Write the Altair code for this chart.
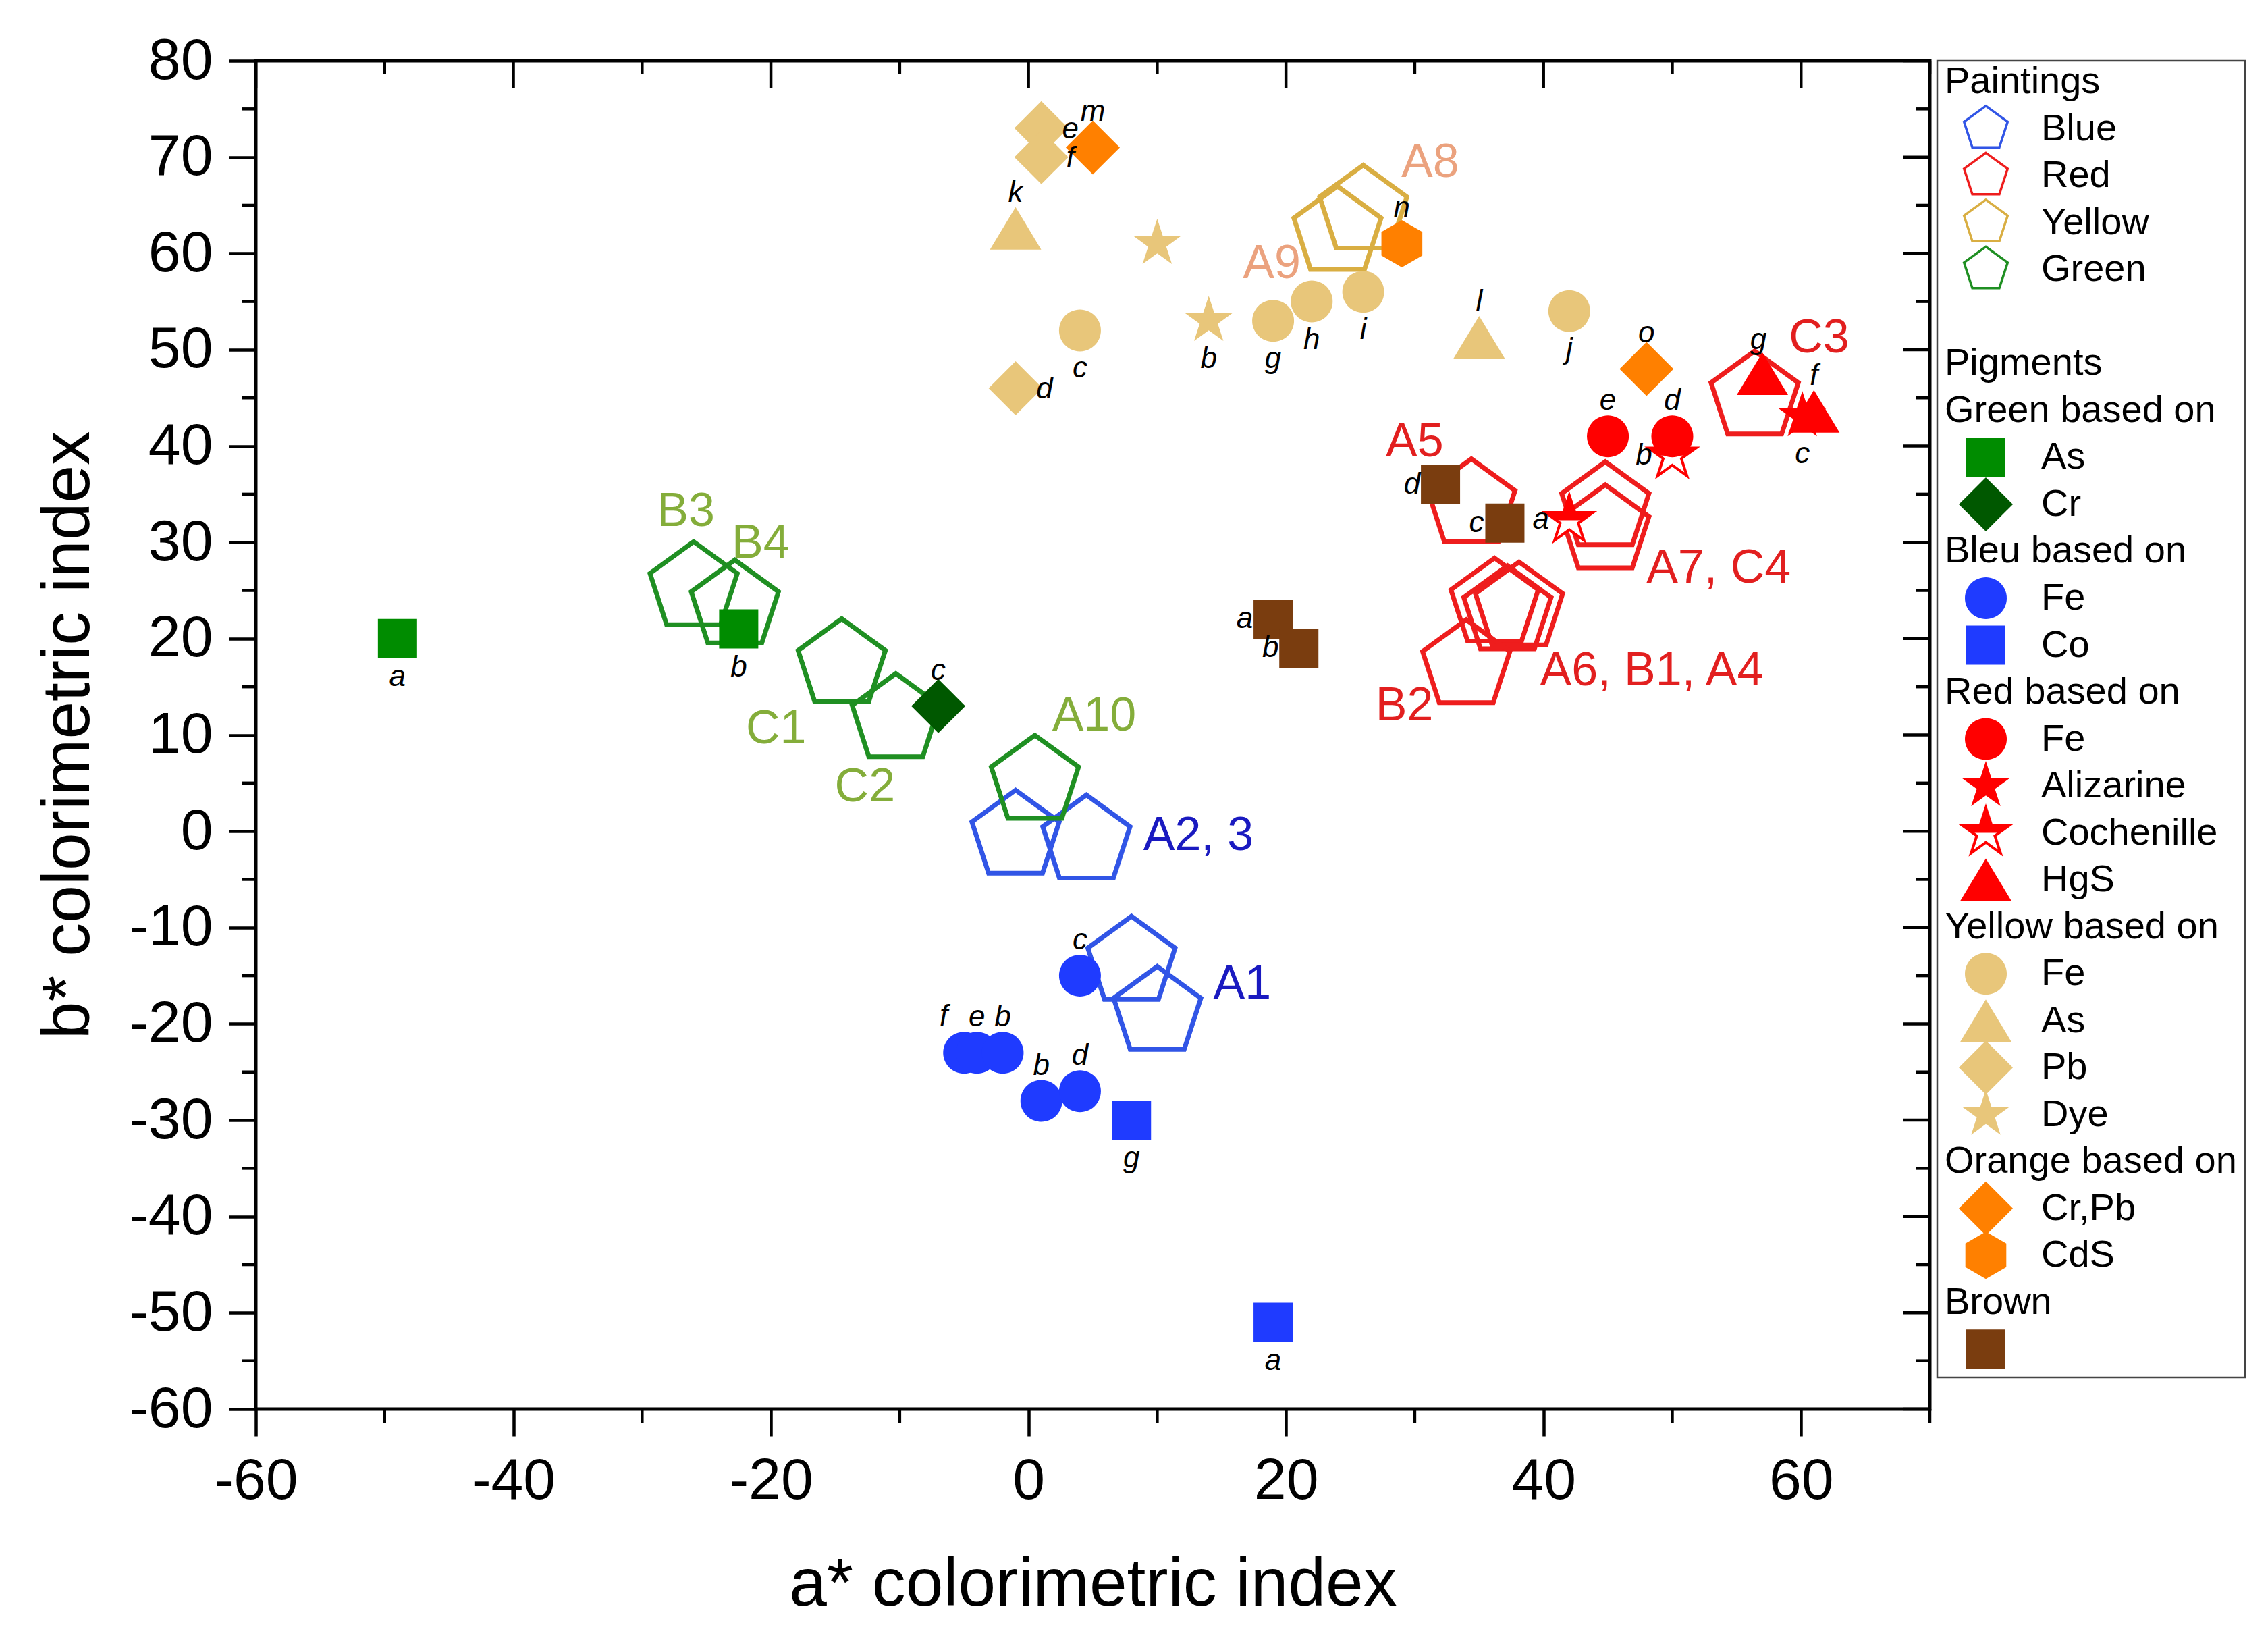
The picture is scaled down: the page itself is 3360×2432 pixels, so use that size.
import math
import altair as alt
import pandas as pd

# ------------------------------------------------------------------ data
# Paintings (open pentagons)
painting_id = ["A1", "A1", "A2", "A3", "A10", "B3", "B4", "C1", "C2",
               "A5", "A7", "C4", "A6", "B1", "A4", "B2", "C3", "A8", "A9"]
painting_group = ["Blue", "Blue", "Blue", "Blue", "Green", "Green", "Green", "Green", "Green",
                  "Red", "Red", "Red", "Red", "Red", "Red", "Red", "Red", "Yellow", "Yellow"]
painting_a = [8.0, 10.0, -1.0, 4.5, 0.5, -26.0, -22.8, -14.5, -10.3,
              34.4, 44.8, 44.8, 36.2, 37.2, 38.1, 34.0, 56.4, 26.0, 24.0]
painting_b = [-13.6, -18.8, -0.5, -1.0, 5.2, 25.3, 23.4, 17.3, 11.6,
              33.9, 33.6, 31.2, 23.6, 22.8, 23.2, 17.2, 45.1, 64.4, 62.2]

# Painting annotations
painting_label = ["A1", "A2, 3", "A10", "B3", "B4", "C1", "C2", "A5", "A7, C4",
                  "A6, B1, A4", "B2", "C3", "A8", "A9"]
painting_label_group = ["Blue", "Blue", "Green", "Green", "Green", "Green", "Green", "Red", "Red",
                        "Red", "Red", "Red", "Yellow", "Yellow"]
painting_label_a = [16.6, 13.2, 5.1, -26.6, -20.8, -19.6, -12.7, 30.0, 53.6, 48.4, 29.2, 61.4, 31.2, 18.9]
painting_label_b = [-15.9, -0.5, 11.9, 33.2, 29.9, 10.6, 4.6, 40.4, 27.3, 16.6, 13.0, 51.2, 69.4, 58.9]

# Pigments (filled symbols)
pigment_cat = ["Green As", "Green As", "Green Cr",
               "Blue Fe", "Blue Fe", "Blue Fe", "Blue Fe", "Blue Fe", "Blue Fe", "Blue Co", "Blue Co",
               "Red Cochenille", "Red Cochenille", "Red Fe", "Red Fe", "Red Alizarine", "Red HgS", "Red HgS",
               "Yellow Fe", "Yellow Fe", "Yellow Fe", "Yellow Fe", "Yellow Fe", "Yellow As", "Yellow As",
               "Yellow Pb", "Yellow Pb", "Yellow Pb", "Yellow Dye", "Yellow Dye",
               "Orange Cr,Pb", "Orange Cr,Pb", "Orange CdS",
               "Brown", "Brown", "Brown", "Brown"]
pigment_letter = ["a", "b", "c",
                  "c", "f", "e", "b", "b", "d", "g", "a",
                  "a", "b", "e", "d", "c", "g", "f",
                  "c", "g", "h", "i", "j", "k", "l",
                  "e", "f", "d", "", "b",
                  "m", "o", "n",
                  "a", "b", "c", "d"]
pigment_a = [-49.0, -22.5, -7.0,
             4.0, -5.0, -4.0, -2.0, 1.0, 4.0, 8.0, 19.0,
             42.0, 50.0, 45.0, 50.0, 60.1, 57.0, 61.0,
             4.0, 19.0, 22.0, 26.0, 42.0, -1.0, 35.0,
             1.0, 1.0, -1.0, 10.0, 14.0,
             5.0, 48.0, 29.0,
             19.0, 21.0, 37.0, 32.0]
pigment_b = [20.0, 21.0, 13.0,
             -15.0, -23.0, -23.0, -23.0, -28.0, -27.0, -30.0, -51.0,
             32.3, 39.0, 41.0, 41.0, 43.1, 47.5, 43.6,
             52.0, 53.0, 55.0, 56.0, 54.0, 62.6, 51.3,
             73.0, 70.0, 46.0, 61.0, 53.0,
             71.0, 48.0, 61.0,
             22.0, 19.0, 32.0, 36.0]
pigment_label_pos = ["S", "S", "N",
                     "N", "NW", "N", "N", "N", "N", "S", "S",
                     "W", "W", "N", "N", "S", "NW2", "N",
                     "S", "S", "S", "S", "S", "N", "N",
                     "E", "E", "E", "N", "S",
                     "N", "N", "N",
                     "W", "W", "W", "W"]

# Legend structure
painting_groups = ["Blue", "Red", "Yellow", "Green"]
pigment_keys = ["Green As", "Green Cr", "Blue Fe", "Blue Co", "Red Fe", "Red Alizarine",
                "Red Cochenille", "Red HgS", "Yellow Fe", "Yellow As", "Yellow Pb", "Yellow Dye",
                "Orange Cr,Pb", "Orange CdS", "Brown"]
pigment_key_header = ["Green based on", "Green based on", "Bleu based on", "Bleu based on",
                      "Red based on", "Red based on", "Red based on", "Red based on",
                      "Yellow based on", "Yellow based on", "Yellow based on", "Yellow based on",
                      "Orange based on", "Orange based on", "Brown"]
pigment_key_text = ["As", "Cr", "Fe", "Co", "Fe", "Alizarine", "Cochenille", "HgS",
                    "Fe", "As", "Pb", "Dye", "Cr,Pb", "CdS", ""]

# Axis ticks
x_major_ticks = [-60, -40, -20, 0, 20, 40, 60]
x_minor_ticks = [-50, -30, -10, 10, 30, 50, 70]
y_major_ticks = [-60, -50, -40, -30, -20, -10, 0, 10, 20, 30, 40, 50, 60, 70, 80]
y_minor_ticks = [-55, -45, -35, -25, -15, -5, 5, 15, 25, 35, 45, 55, 65, 75]

# ------------------------------------------------------------------ styles
FONT = "Liberation Sans"
W, H = 2480, 1997
LEG_W, LEG_H = 456, 1950
SYM_SIZE = 40000       # 1 path unit = 100 px
LEG_PENT_SIZE = 10000  # 1 path unit = 50 px


def poly(points):
    return "M" + "L".join(f"{x:.4f},{y:.4f}" for x, y in points) + "Z"


def regular(n, r, start=-90.0):
    return [(r * math.cos(math.radians(start + 360.0 * k / n)),
             r * math.sin(math.radians(start + 360.0 * k / n))) for k in range(n)]


def star_pts(R, r):
    pts = []
    for k in range(10):
        ang = math.radians(-90 + 36 * k)
        rad = R if k % 2 == 0 else r
        pts.append((rad * math.cos(ang), rad * math.sin(ang)))
    return pts


def clip_upper(pts):
    out = []
    n = len(pts)
    for i in range(n):
        p, q = pts[i], pts[(i + 1) % n]
        pin, qin = p[1] <= 0, q[1] <= 0
        if pin:
            out.append(p)
        if pin != qin:
            t = p[1] / (p[1] - q[1])
            out.append((p[0] + t * (q[0] - p[0]), 0.0))
    return out


SHAPES = {
    "square": poly([(-.29, -.29), (.29, -.29), (.29, .29), (-.29, .29)]),
    "circle": "M-0.31,0A0.31,0.31 0 1,0 0.31,0A0.31,0.31 0 1,0 -0.31,0Z",
    "diamond": poly([(0, -.40), (.40, 0), (0, .40), (-.40, 0)]),
    "triangle": poly([(0, -.315), (.38, .315), (-.38, .315)]),
    "star": poly(star_pts(.37, .37 * .382)),
    "halfstar": poly(clip_upper(star_pts(.37, .37 * .382))),
    "hexagon": poly(regular(6, .35)),
    "pentagon": poly(regular(5, .68)),
}

PAINT_COLOR = {"Blue": "#3155E6", "Red": "#EE1D1D", "Yellow": "#D9AE42", "Green": "#1F8F22"}
PAINT_LABEL_COLOR = {"Blue": "#1A1AC0", "Red": "#E21F1F", "Yellow": "#EBA27E", "Green": "#84AD3A"}
PIG_STYLE = {
    "Green As": ("square", "#008C00"),
    "Green Cr": ("diamond", "#005800"),
    "Blue Fe": ("circle", "#1F3BFF"),
    "Blue Co": ("square", "#1F3BFF"),
    "Red Fe": ("circle", "#FF0000"),
    "Red Alizarine": ("star", "#FF0000"),
    "Red Cochenille": ("star", "#FF0000"),
    "Red HgS": ("triangle", "#FF0000"),
    "Yellow Fe": ("circle", "#E8C67A"),
    "Yellow As": ("triangle", "#E8C67A"),
    "Yellow Pb": ("diamond", "#E8C67A"),
    "Yellow Dye": ("star", "#E8C67A"),
    "Orange Cr,Pb": ("diamond", "#FF8000"),
    "Orange CdS": ("hexagon", "#FF8000"),
    "Brown": ("square", "#7A3D0F"),
}
LABEL_OFFSETS = {"N": (0, -52), "S": (0, 57), "E": (43, 2), "W": (-42, 0),
                 "NW": (-30, -53), "NW2": (-6, -50)}

# ------------------------------------------------------------------ tables
paint_df = pd.DataFrame({"id": painting_id, "group": painting_group, "a": painting_a, "b": painting_b})
paint_df["color"] = paint_df["group"].map(PAINT_COLOR)

plabel_df = pd.DataFrame({"text": painting_label, "group": painting_label_group,
                          "a": painting_label_a, "b": painting_label_b})
plabel_df["color"] = plabel_df["group"].map(PAINT_LABEL_COLOR)

pig_df = pd.DataFrame({"cat": pigment_cat, "letter": pigment_letter, "a": pigment_a,
                       "b": pigment_b, "pos": pigment_label_pos})
pig_df["shape"] = pig_df["cat"].map(lambda c: SHAPES[PIG_STYLE[c][0]])
pig_df["color"] = pig_df["cat"].map(lambda c: PIG_STYLE[c][1])
half_df = pig_df[pig_df["cat"] == "Red Cochenille"]
solid_df = pig_df[pig_df["cat"] != "Red Cochenille"]

# ------------------------------------------------------------------ main plot
X_SCALE = alt.Scale(domain=[-60, 70], nice=False, zero=False)
Y_SCALE = alt.Scale(domain=[-60, 80], nice=False, zero=False)
axis_common = dict(labelFont=FONT, labelFontSize=86, labelColor="black", labelPadding=24,
                   labelFlush=False, labelOverlap=False, labelExpr="'' + datum.value",
                   tickSize=40, tickWidth=4.5, tickColor="black", domain=False, grid=False,
                   titleFont=FONT, titleFontSize=100, titleFontWeight="normal", titleColor="black")
X_AXIS = alt.Axis(values=x_major_ticks, title="a* colorimetric index", titlePadding=62, **axis_common)
Y_AXIS = alt.Axis(values=y_major_ticks, title="b* colorimetric index", titlePadding=38, **axis_common)


def XE():
    return alt.X("a:Q", scale=X_SCALE, axis=X_AXIS)


def YE():
    return alt.Y("b:Q", scale=Y_SCALE, axis=Y_AXIS)


tick = dict(color="black", strokeWidth=4.5)
xmaj = pd.DataFrame({"a": x_major_ticks})
xmin = pd.DataFrame({"a": x_minor_ticks})
ymaj = pd.DataFrame({"b": y_major_ticks})
ymin = pd.DataFrame({"b": y_minor_ticks})

layers = [
    alt.Chart(xmaj).mark_rule(**tick).encode(x=XE(), y=alt.value(0), y2=alt.value(40)),
    alt.Chart(xmin).mark_rule(**tick).encode(x=XE(), y=alt.value(0), y2=alt.value(20)),
    alt.Chart(xmin).mark_rule(**tick).encode(x=XE(), y=alt.value(H), y2=alt.value(H + 20)),
    alt.Chart(ymaj).mark_rule(**tick).encode(y=YE(), x=alt.value(W - 40), x2=alt.value(W)),
    alt.Chart(ymin).mark_rule(**tick).encode(y=YE(), x=alt.value(W - 20), x2=alt.value(W)),
    alt.Chart(ymin).mark_rule(**tick).encode(y=YE(), x=alt.value(-20), x2=alt.value(0)),
    # paintings
    alt.Chart(paint_df).mark_point(shape=SHAPES["pentagon"], size=SYM_SIZE, filled=False,
                                   strokeWidth=7, opacity=1).encode(
        x=XE(), y=YE(), color=alt.Color("color:N", scale=None)),
    # cochenille (half-filled stars)
    alt.Chart(half_df).mark_point(shape=SHAPES["star"], size=SYM_SIZE, filled=True, fill="white",
                                  stroke="#FF0000", strokeWidth=4, opacity=1).encode(x=XE(), y=YE()),
    alt.Chart(half_df).mark_point(shape=SHAPES["halfstar"], size=SYM_SIZE, filled=True,
                                  fill="#FF0000", strokeWidth=0, opacity=1).encode(x=XE(), y=YE()),
    # other pigments
    alt.Chart(solid_df).mark_point(size=SYM_SIZE, filled=True, strokeWidth=0, opacity=1).encode(
        x=XE(), y=YE(), shape=alt.Shape("shape:N", scale=None),
        color=alt.Color("color:N", scale=None)),
]
for code, (ddx, ddy) in LABEL_OFFSETS.items():
    layers.append(
        alt.Chart(pig_df).transform_filter(alt.datum.pos == code).mark_text(
            dx=ddx, dy=ddy, font=FONT, fontSize=44, fontStyle="italic", color="black",
            align="center", baseline="middle").encode(x=XE(), y=YE(), text="letter:N"))
layers.append(
    alt.Chart(plabel_df).mark_text(font=FONT, fontSize=70, align="center", baseline="middle").encode(
        x=XE(), y=YE(), text="text:N", color=alt.Color("color:N", scale=None)))

main = alt.layer(*layers).properties(
    width=W, height=H, view=alt.ViewBackground(stroke="black", strokeWidth=5))

# ------------------------------------------------------------------ legend panel
rows = []
r = 0
rows.append(dict(row=r, kind="header", text="Paintings"))
r += 1
for g in painting_groups:
    rows.append(dict(row=r, kind="paint", text=g, color=PAINT_COLOR[g], shape=""))
    r += 1
r += 1
rows.append(dict(row=r, kind="header", text="Pigments"))
r += 1
prev = None
for key, head, txt in zip(pigment_keys, pigment_key_header, pigment_key_text):
    if head != prev:
        rows.append(dict(row=r, kind="header", text=head))
        r += 1
        prev = head
    shp, col = PIG_STYLE[key]
    rows.append(dict(row=r, kind="half" if key == "Red Cochenille" else "pig",
                     text=txt, shape=SHAPES[shp], color=col))
    r += 1
leg = pd.DataFrame(rows).fillna("")

LY = alt.Y("row:Q", scale=alt.Scale(domain=[-0.45, 27.6], reverse=True, nice=False, zero=False),
           axis=None)
LX_HEAD, LX_SYM, LX_TEXT = 11, 72, 154

legend = alt.layer(
    alt.Chart(leg).transform_filter(alt.datum.kind == "header").mark_text(
        align="left", baseline="middle", font=FONT, fontSize=56, color="black").encode(
        x=alt.value(LX_HEAD), y=LY, text="text:N"),
    alt.Chart(leg).transform_filter(alt.datum.kind != "header").mark_text(
        align="left", baseline="middle", font=FONT, fontSize=56, color="black").encode(
        x=alt.value(LX_TEXT), y=LY, text="text:N"),
    alt.Chart(leg).transform_filter(alt.datum.kind == "paint").mark_point(
        shape=SHAPES["pentagon"], size=LEG_PENT_SIZE, filled=False, strokeWidth=3.5, opacity=1).encode(
        x=alt.value(LX_SYM), y=LY, color=alt.Color("color:N", scale=None)),
    alt.Chart(leg).transform_filter(alt.datum.kind == "pig").mark_point(
        size=SYM_SIZE, filled=True, strokeWidth=0, opacity=1).encode(
        x=alt.value(LX_SYM), y=LY, shape=alt.Shape("shape:N", scale=None),
        color=alt.Color("color:N", scale=None)),
    alt.Chart(leg).transform_filter(alt.datum.kind == "half").mark_point(
        shape=SHAPES["star"], size=SYM_SIZE, filled=True, fill="white", stroke="#FF0000",
        strokeWidth=4, opacity=1).encode(x=alt.value(LX_SYM), y=LY),
    alt.Chart(leg).transform_filter(alt.datum.kind == "half").mark_point(
        shape=SHAPES["halfstar"], size=SYM_SIZE, filled=True, fill="#FF0000", strokeWidth=0,
        opacity=1).encode(x=alt.value(LX_SYM), y=LY),
).properties(width=LEG_W, height=LEG_H,
             view=alt.ViewBackground(stroke="#444444", strokeWidth=2.5))

chart = alt.hconcat(
    main, legend, spacing=11, bounds="flush",
    padding={"left": 41, "top": 36, "right": 12, "bottom": 12},
).resolve_scale(x="independent", y="independent").configure_view(strokeWidth=0)

chart.save("out.html", embed_options={"renderer": "svg", "actions": False})
